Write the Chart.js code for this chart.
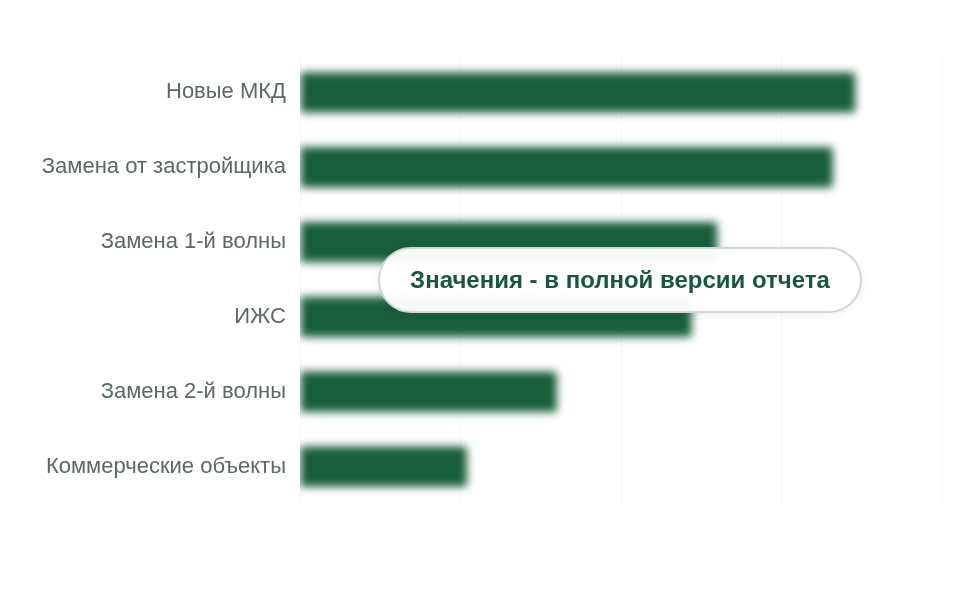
<!DOCTYPE html>
<html lang="ru">
<head>
<meta charset="utf-8">
<script src="https://cdn.jsdelivr.net/npm/chart.js@4/dist/chart.umd.min.js"></script>
<style>
  html, body { margin: 0; padding: 0; background: #fff; }
  .wrap { position: relative; width: 960px; height: 600px; }
  .pill {
    position: absolute; left: 378px; top: 247px; width: 480px; height: 62px;
    border: 2px solid #cdd8d1; border-radius: 33px; background: rgba(255,255,255,0.96);
    box-shadow: 0 2px 8px rgba(0,0,0,0.06);
    font: bold 24px "Liberation Sans", Arial, sans-serif; color: #17573a;
    display: flex; align-items: center; justify-content: center;
  }
</style>
</head>
<body>
<div class="wrap">
  <canvas id="chart" width="960" height="600"></canvas>
  <div class="pill">Значения - в полной версии отчета</div>
</div>
<script>
const categories = [
  'Новые МКД',
  'Замена от застройщика',
  'Замена 1-й волны',
  'ИЖС',
  'Замена 2-й волны',
  'Коммерческие объекты'
];
const values = [86.5, 83, 65, 61, 40, 26];
const axisTicks = [0, 25, 50, 75, 100];

(function () {
  // blur only the bars, keep labels sharp
  const blurBars = {
    id: 'blurBars',
    beforeDatasetsDraw(chart) {
      chart.ctx.save();
      chart.ctx.filter = 'blur(4px)';
    },
    afterDatasetsDraw(chart) {
      chart.ctx.restore();
    }
  };

  const config = {
    type: 'bar',
    data: {
      labels: categories,
      datasets: [{
        data: values,
        backgroundColor: '#185e3b',
        borderRadius: 3,
        categoryPercentage: 1,
        barPercentage: 0.54
      }]
    },
    options: {
      indexAxis: 'y',
      responsive: false,
      animation: false,
      layout: { padding: { top: 55, bottom: 96, right: 18, left: 0 } },
      scales: {
        x: {
          min: axisTicks[0],
          max: axisTicks[axisTicks.length - 1],
          afterBuildTicks: (scale) => { scale.ticks = axisTicks.map((v) => ({ value: v })); },
          ticks: { display: false },
          grid: { color: 'rgba(0,0,0,0.03)', drawTicks: false },
          border: { display: false }
        },
        y: {
          afterFit: (scale) => { scale.width = 300; },
          ticks: {
            color: '#5c6863',
            padding: 14,
            font: { family: '"Liberation Sans", Arial, sans-serif', size: 22 }
          },
          grid: { display: false, drawTicks: false },
          border: { display: false }
        }
      },
      plugins: {
        legend: { display: false },
        tooltip: { enabled: false }
      }
    },
    plugins: [blurBars]
  };
  new Chart(document.getElementById('chart'), config);
})();
</script>
</body>
</html>
